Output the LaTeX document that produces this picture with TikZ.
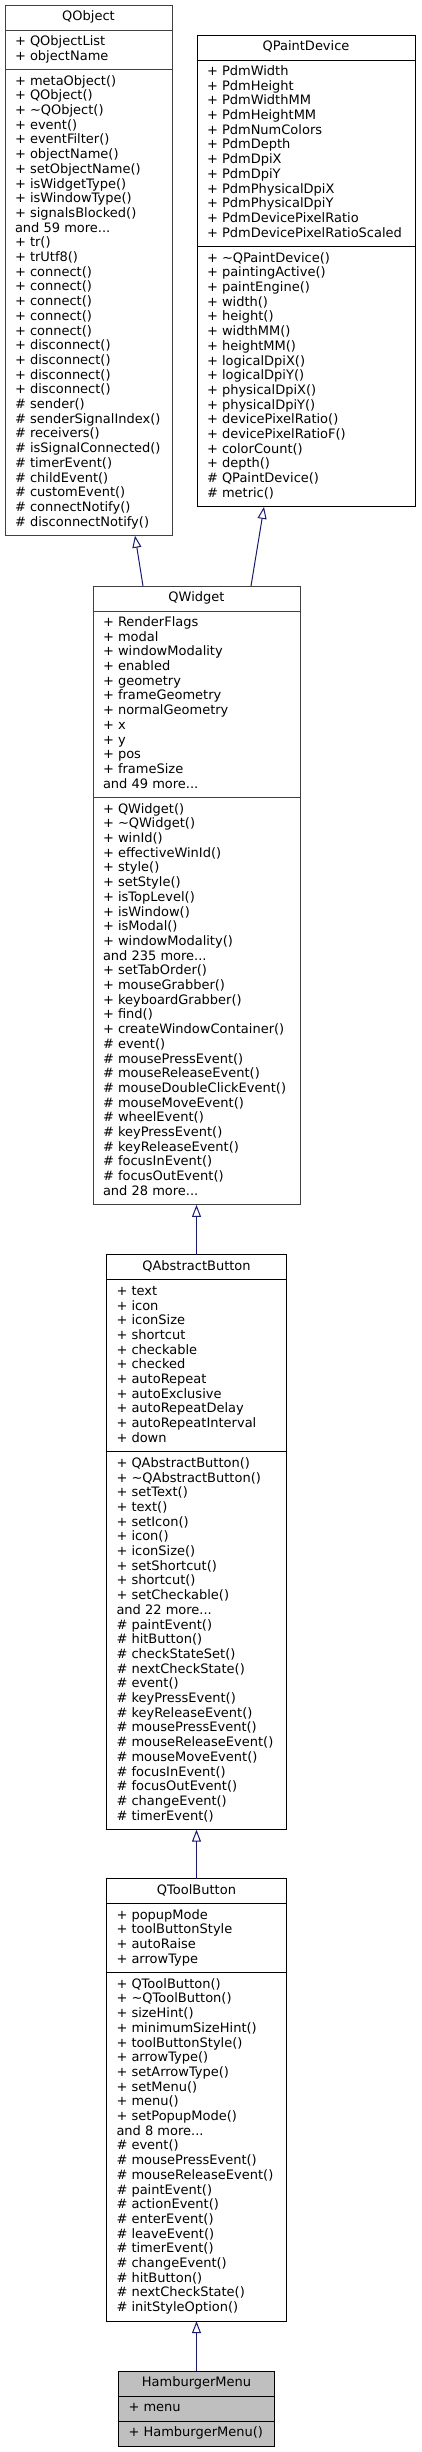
\documentclass[tikz,border=0pt]{standalone}
\usepackage{fontspec}
\setmainfont{DejaVu Sans}
\usetikzlibrary{shapes.multipart,positioning,arrows.meta}
\definecolor{edgeblue}{HTML}{191970}
\definecolor{boxgray}{HTML}{404040}
\definecolor{focusfill}{HTML}{BFBFBF}
\newcommand{\umlfont}{\fontsize{13}{14.7}\selectfont}
\newcommand{\cpart}[1]{\strut#1\strut}
\tikzset{
  classbox/.style={rectangle split, rectangle split parts=3, draw, line width=1pt,
    inner xsep=10pt, inner ysep=4.65pt, outer sep=0pt, font=\umlfont, align=left,
    rectangle split part align={center,left,left}},
  inherit/.style={draw=edgeblue, line width=1pt, -{Triangle[open,length=12pt,width=9pt]}}
}
\begin{document}
\begin{tikzpicture}[x=1pt, y=-1pt]
  \useasboundingbox (0,0) rectangle (421,2452);
  \node[classbox, draw=boxgray, minimum width=167pt, anchor=north west] (qobject) at (5,5)
    {\cpart{QObject}
     \nodepart{two}\cpart{+ QObjectList\\+ objectName}
     \nodepart{three}\cpart{+ metaObject()\\+ QObject()\\+ \textasciitilde QObject()\\+ event()\\+ eventFilter()\\+ objectName()\\+ setObjectName()\\+ isWidgetType()\\+ isWindowType()\\+ signalsBlocked()\\and 59 more...\\+ tr()\\+ trUtf8()\\+ connect()\\+ connect()\\+ connect()\\+ connect()\\+ connect()\\+ disconnect()\\+ disconnect()\\+ disconnect()\\+ disconnect()\\\# sender()\\\# senderSignalIndex()\\\# receivers()\\\# isSignalConnected()\\\# timerEvent()\\\# childEvent()\\\# customEvent()\\\# connectNotify()\\\# disconnectNotify()}};
  \node[classbox, minimum width=218pt, anchor=north west] (qpaintdevice) at (197,35)
    {\cpart{QPaintDevice}
     \nodepart{two}\cpart{+ PdmWidth\\+ PdmHeight\\+ PdmWidthMM\\+ PdmHeightMM\\+ PdmNumColors\\+ PdmDepth\\+ PdmDpiX\\+ PdmDpiY\\+ PdmPhysicalDpiX\\+ PdmPhysicalDpiY\\+ PdmDevicePixelRatio\\+ PdmDevicePixelRatioScaled}
     \nodepart{three}\cpart{+ \textasciitilde QPaintDevice()\\+ paintingActive()\\+ paintEngine()\\+ width()\\+ height()\\+ widthMM()\\+ heightMM()\\+ logicalDpiX()\\+ logicalDpiY()\\+ physicalDpiX()\\+ physicalDpiY()\\+ devicePixelRatio()\\+ devicePixelRatioF()\\+ colorCount()\\+ depth()\\\# QPaintDevice()\\\# metric()}};
  \node[classbox, draw=boxgray, minimum width=207pt, anchor=north west] (qwidget) at (93,586)
    {\cpart{QWidget}
     \nodepart{two}\cpart{+ RenderFlags\\+ modal\\+ windowModality\\+ enabled\\+ geometry\\+ frameGeometry\\+ normalGeometry\\+ x\\+ y\\+ pos\\+ frameSize\\and 49 more...}
     \nodepart{three}\cpart{+ QWidget()\\+ \textasciitilde QWidget()\\+ winId()\\+ effectiveWinId()\\+ style()\\+ setStyle()\\+ isTopLevel()\\+ isWindow()\\+ isModal()\\+ windowModality()\\and 235 more...\\+ setTabOrder()\\+ mouseGrabber()\\+ keyboardGrabber()\\+ find()\\+ createWindowContainer()\\\# event()\\\# mousePressEvent()\\\# mouseReleaseEvent()\\\# mouseDoubleClickEvent()\\\# mouseMoveEvent()\\\# wheelEvent()\\\# keyPressEvent()\\\# keyReleaseEvent()\\\# focusInEvent()\\\# focusOutEvent()\\and 28 more...}};
  \node[classbox, minimum width=180pt, below=50pt of qwidget] (qabstractbutton)
    {\cpart{QAbstractButton}
     \nodepart{two}\cpart{+ text\\+ icon\\+ iconSize\\+ shortcut\\+ checkable\\+ checked\\+ autoRepeat\\+ autoExclusive\\+ autoRepeatDelay\\+ autoRepeatInterval\\+ down}
     \nodepart{three}\cpart{+ QAbstractButton()\\+ \textasciitilde QAbstractButton()\\+ setText()\\+ text()\\+ setIcon()\\+ icon()\\+ iconSize()\\+ setShortcut()\\+ shortcut()\\+ setCheckable()\\and 22 more...\\\# paintEvent()\\\# hitButton()\\\# checkStateSet()\\\# nextCheckState()\\\# event()\\\# keyPressEvent()\\\# keyReleaseEvent()\\\# mousePressEvent()\\\# mouseReleaseEvent()\\\# mouseMoveEvent()\\\# focusInEvent()\\\# focusOutEvent()\\\# changeEvent()\\\# timerEvent()}};
  \node[classbox, minimum width=180pt, below=49pt of qabstractbutton] (qtoolbutton)
    {\cpart{QToolButton}
     \nodepart{two}\cpart{+ popupMode\\+ toolButtonStyle\\+ autoRaise\\+ arrowType}
     \nodepart{three}\cpart{+ QToolButton()\\+ \textasciitilde QToolButton()\\+ sizeHint()\\+ minimumSizeHint()\\+ toolButtonStyle()\\+ arrowType()\\+ setArrowType()\\+ setMenu()\\+ menu()\\+ setPopupMode()\\and 8 more...\\\# event()\\\# mousePressEvent()\\\# mouseReleaseEvent()\\\# paintEvent()\\\# actionEvent()\\\# enterEvent()\\\# leaveEvent()\\\# timerEvent()\\\# changeEvent()\\\# hitButton()\\\# nextCheckState()\\\# initStyleOption()}};
  \node[classbox, fill=focusfill, minimum width=156pt, below=50pt of qtoolbutton] (hamburgermenu)
    {\cpart{HamburgerMenu}
     \nodepart{two}\cpart{+ menu}
     \nodepart{three}\cpart{+ HamburgerMenu()}};
  % inheritance arrows
  \draw[inherit] ([xshift=50pt]qwidget.north west) -- ([xshift=130pt]qobject.south west);
  \draw[inherit] ([xshift=158pt]qwidget.north west) -- ([xshift=67pt]qpaintdevice.south west);
  \draw[inherit] (qabstractbutton.north) -- (qwidget.south);
  \draw[inherit] (qtoolbutton.north) -- (qabstractbutton.south);
  \draw[inherit] (hamburgermenu.north) -- (qtoolbutton.south);
\end{tikzpicture}
\end{document}
